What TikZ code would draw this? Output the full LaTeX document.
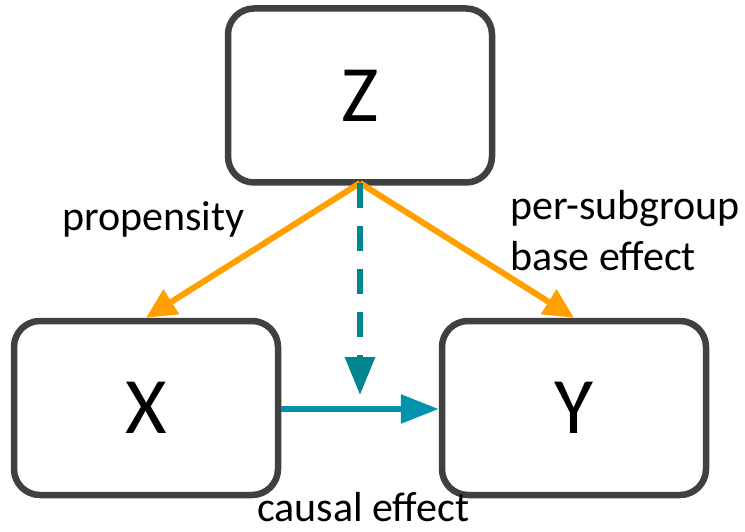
\documentclass[tikz,border=0pt]{standalone}
\usepackage{fontspec}
\setmainfont{Carlito}
\usetikzlibrary{arrows.meta}
\definecolor{boxline}{HTML}{404040}
\definecolor{orangearr}{HTML}{FFA000}
\definecolor{tealdash}{HTML}{00858F}
\definecolor{tealarr}{HTML}{0093AB}
\tikzset{
  varbox/.style={draw=boxline, line width=6.5pt, rounded corners=26pt,
    minimum width=264pt, minimum height=174pt, inner sep=0pt,
    font=\fontsize{80}{90}\selectfont},
  lbl/.style={inner sep=0pt, anchor=base west, font=\fontsize{42}{50}\selectfont},
  orangeline/.style={draw=orangearr, line width=6pt,
    -{Triangle[length=30pt,width=28pt]}},
  dashline/.style={draw=tealdash, line width=6pt, dash pattern=on 25pt off 18pt,
    -{Triangle[length=38pt,width=29pt]}},
  causeline/.style={draw=tealarr, line width=6pt,
    -{Triangle[length=38pt,width=28pt]}}
}
\begin{document}
\begin{tikzpicture}[x=1pt,y=-1pt]
  \useasboundingbox (0,0) rectangle (745,532);
  \node[varbox] (Z) at (360,95.5) {Z};
  \node[varbox] (X) at (146,408) {X};
  \node[varbox] (Y) at (574,408) {Y};
  \coordinate (zb) at (360,183);
  \coordinate (mid) at (360,409);
  \draw[orangeline] (zb) -- (X.north);
  \draw[orangeline] (zb) -- (Y.north);
  \draw[causeline] (X.east |- mid) -- (Y.west |- mid);
  \draw[dashline] (zb) -- ([yshift=14pt]mid);
  \node[lbl] (prop) at (62,230) {propensity};
  \node[lbl] (base1) at (510,220) {per-subgroup};
  \node[lbl] (base2) at (510,270) {base effect};
  \node[lbl, text depth=0pt] (cause) at (257,521) {causal effect};
\end{tikzpicture}
\end{document}
